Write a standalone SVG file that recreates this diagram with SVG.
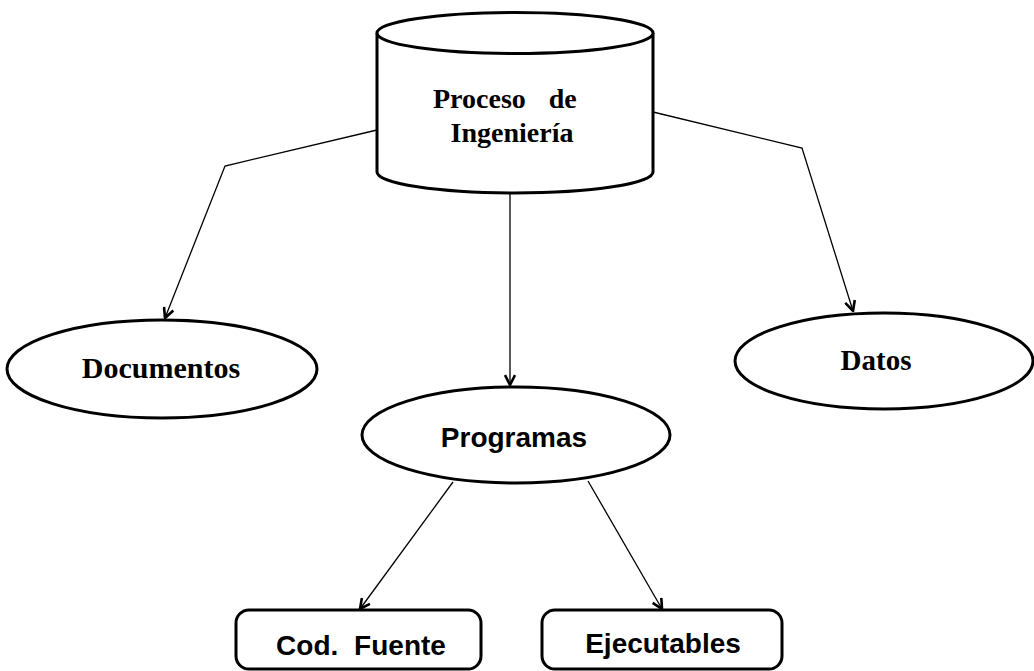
<svg xmlns="http://www.w3.org/2000/svg" width="1034" height="671" viewBox="0 0 1034 671">
  <style>
    .shape { fill: #ffffff; stroke: #000000; stroke-width: 3; }
    .serif { font-family: "Liberation Serif", "Times New Roman", serif; font-weight: bold; font-size: 28px; fill: #000000; }
    .sans { font-family: "Liberation Sans", Arial, sans-serif; font-weight: bold; font-size: 28px; fill: #000000; }
    .link { fill: none; stroke: #000000; stroke-width: 1.3; marker-end: url(#arrow); }
  </style>
  <defs>
    <marker id="arrow" viewBox="0 0 12 12" refX="11" refY="6" markerWidth="12" markerHeight="12" markerUnits="userSpaceOnUse" orient="auto">
      <path d="M1,1 L11,6 L1,11" fill="none" stroke="#000000" stroke-width="2.6"/>
    </marker>
  </defs>
  <rect width="1034" height="671" fill="#ffffff"/>

  <!-- connectors -->
  <g id="connectors">
    <polyline class="link" points="377,130 225,166 165,318"/>
    <line class="link" x1="510" y1="193" x2="510" y2="385"/>
    <polyline class="link" points="653,112 802,148 853,311"/>
    <line class="link" x1="453" y1="482" x2="360" y2="609"/>
    <line class="link" x1="588" y1="481" x2="662" y2="609"/>
  </g>

  <!-- cylinder: Proceso de Ingenieria -->
  <g id="proceso">
    <path class="shape" d="M377,33 L377,172 A138,21 0 0 0 653,172 L653,33"/>
    <ellipse class="shape" cx="515" cy="33" rx="138" ry="20.5"/>
    <text class="serif" x="433" y="108">Proceso <tspan dx="16">de</tspan></text>
    <text class="serif" x="512" y="142" text-anchor="middle">Ingeniería</text>
  </g>

  <g id="documentos">
    <ellipse class="shape" cx="162" cy="369" rx="155" ry="49"/>
    <text class="serif" x="161" y="378" text-anchor="middle" style="font-size:30px">Documentos</text>
  </g>

  <g id="datos">
    <ellipse class="shape" cx="884" cy="361" rx="149" ry="48"/>
    <text class="serif" x="876" y="370" text-anchor="middle" style="font-size:29px">Datos</text>
  </g>

  <g id="programas">
    <ellipse class="shape" cx="516" cy="435" rx="154" ry="48"/>
    <text class="sans" x="514" y="447" text-anchor="middle">Programas</text>
  </g>

  <g id="cod-fuente">
    <rect class="shape" x="236" y="610" width="245" height="59" rx="13" ry="13"/>
    <text class="sans" x="361" y="655" text-anchor="middle">Cod. <tspan dx="8">Fuente</tspan></text>
  </g>

  <g id="ejecutables">
    <rect class="shape" x="542" y="610" width="240" height="59" rx="13" ry="13"/>
    <text class="sans" x="663" y="653" text-anchor="middle">Ejecutables</text>
  </g>
</svg>
